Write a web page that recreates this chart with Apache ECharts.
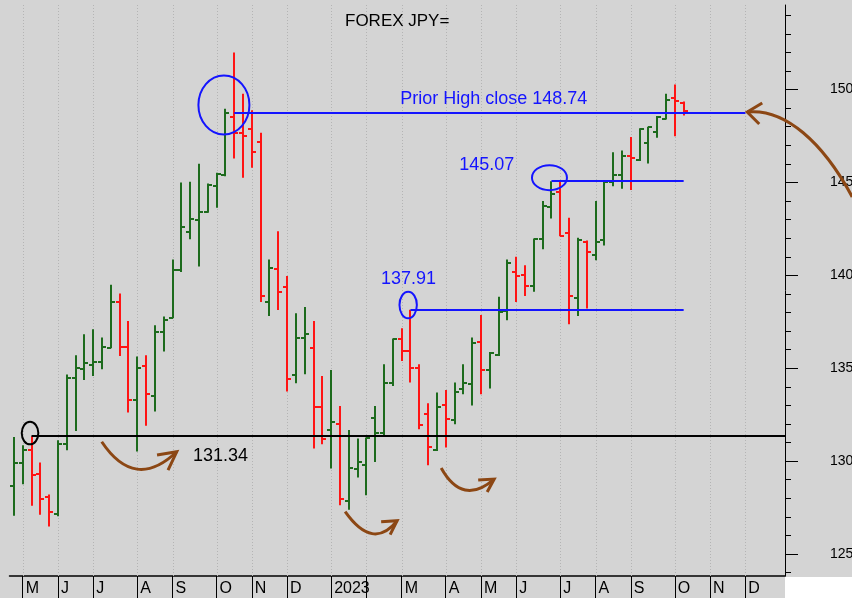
<!DOCTYPE html>
<html>
<head>
<meta charset="utf-8">
<title>FOREX JPY=</title>
<script src="https://cdn.jsdelivr.net/npm/echarts@6/dist/echarts.min.js"></script>
<style>
  html, body { margin: 0; padding: 0; background: #d4d4d4; }
  #chart { width: 852px; height: 598px; }
</style>
</head>
<body>
<div id="chart"></div>
<script>
// weekly OHLC, one bar per week (week ending Friday), first bar 2022-04-29
const weekCount = 88 // axis runs on to the end of Dec 2023

const opens = [128.67, 129.9, 130.6, 129.3, 128.05, 127.15, 130.95, 134.5, 134.98, 135.2,
  135.34, 136.1, 138.59, 136.17, 133.28, 135.13, 133.5, 136.97, 137.7, 140.27,
  142.35, 143.0, 143.4, 144.8, 145.4, 148.5, 147.67, 147.85, 147.19, 138.56,
  140.32, 139.39, 134.64, 136.65, 136.11, 132.89, 131.68, 132.0, 127.87, 129.57,
  129.8, 132.3, 131.49, 134.23, 136.56, 135.93, 135.04, 132.53, 130.59, 133.01,
  132.22, 133.91, 134.14, 136.41, 134.89, 135.7, 138.08, 140.2, 140.0, 139.43,
  141.94, 143.67, 144.5, 142.29, 138.8, 141.79, 141.09, 141.88, 145.02, 145.38,
  146.45, 146.2, 147.1, 147.73, 148.39, 149.52, 149.25]
const highs = [131.3, 130.86, 131.34, 129.93, 128.21, 131.13, 134.66, 135.7, 136.83, 137.1,
  136.65, 139.5, 139.02, 137.54, 135.63, 135.7, 137.31, 137.78, 140.86, 145.0,
  145.04, 146.0, 144.95, 145.52, 148.96, 152.0, 149.77, 148.89, 147.67, 140.86,
  142.38, 139.96, 137.96, 138.3, 137.54, 134.59, 134.91, 132.97, 131.68, 131.22,
  131.27, 132.97, 135.22, 136.6, 137.15, 138.15, 135.22, 133.12, 133.69, 133.83,
  134.23, 135.22, 136.65, 137.87, 135.88, 138.85, 140.86, 141.0, 140.54, 141.99,
  144.0, 145.07, 145.04, 143.1, 142.03, 141.88, 144.0, 145.07, 146.63, 146.72,
  147.44, 147.92, 148.0, 148.57, 149.78, 150.27, 149.35]
const lows = [127.06, 128.76, 127.6, 127.11, 126.49, 127.03, 130.59, 131.63, 134.37, 134.59,
  134.95, 136.08, 135.66, 132.62, 130.52, 131.9, 132.67, 135.9, 137.69, 140.18,
  141.94, 140.47, 143.37, 143.64, 145.34, 146.29, 145.25, 145.79, 138.56, 137.81,
  138.13, 133.75, 134.19, 134.68, 130.68, 130.91, 129.61, 127.63, 127.38, 129.12,
  128.17, 129.96, 131.41, 134.05, 135.39, 134.23, 131.72, 129.78, 130.55, 130.74,
  131.99, 133.6, 133.0, 133.6, 133.91, 135.66, 137.58, 138.56, 138.89, 139.12,
  141.4, 143.06, 142.11, 137.37, 137.81, 138.21, 140.81, 141.61, 144.8, 144.66,
  144.59, 146.15, 146.02, 147.4, 148.39, 147.49, 148.6]
const closes = [129.89, 130.61, 129.25, 127.96, 127.24, 130.95, 134.5, 135.04, 135.3, 135.35,
  136.15, 138.59, 136.17, 133.28, 135.04, 133.6, 136.97, 137.6, 140.27, 142.6,
  143.01, 143.4, 144.86, 145.43, 148.74, 147.67, 147.49, 146.63, 138.89, 140.41,
  139.12, 134.41, 136.65, 136.83, 132.89, 131.18, 132.13, 127.96, 129.62, 129.96,
  131.24, 131.5, 134.23, 136.56, 135.93, 135.04, 131.94, 130.77, 132.89, 132.26,
  133.71, 134.23, 136.34, 134.89, 135.81, 138.03, 140.68, 139.98, 139.43, 141.94,
  143.73, 144.39, 142.11, 138.89, 141.9, 141.25, 141.79, 145.04, 145.38, 146.41,
  146.33, 147.89, 147.97, 148.51, 149.42, 149.37, 148.83]

const yTicks = [125, 130, 135, 140, 145, 150]
const yMinorTicks = [124, 126, 127, 128, 129, 131, 132, 133, 134, 136, 137, 138, 139,
  141, 142, 143, 144, 146, 147, 148, 149, 151, 152, 153, 154]
// January shows the year, February label is covered by it
const monthLetters = ['', '', 'M', 'A', 'M', 'J', 'J', 'A', 'S', 'O', 'N', 'D']

// levels drawn on the chart: label, price, first and last week
const levelNames = ['Prior High close 148.74', '145.07', '137.91', '131.34']
const levelValues = [148.74, 145.07, 138.15, 131.34]
const levelStart = [25, 61, 45, 2]
const levelEnd = [83, 76, 76, 87]

const GREEN = '#1d6b1d'
const RED = '#ff1414'
const BLUE = '#1414ff'
const BROWN = '#8c4714'
const yMin = 123.82
const yMax = 154.55

const weeks = []
for (let i = 0; i < weekCount; i++) {
  const d = new Date(Date.UTC(2022, 3, 29 + i * 7))
  weeks.push(d.toISOString().slice(0, 10))
}
function isMonthStart (i) {
  return i > 0 && weeks[i].slice(5, 7) !== weeks[i - 1].slice(5, 7)
}
const monthStarts = weeks.map((w, i) => i).filter(isMonthStart)

const ohlcData = opens.map((o, i) => {
  const prev = i ? closes[i - 1] : o
  return [i, o, highs[i], lows[i], closes[i], closes[i] >= prev ? 1 : -1]
})

const chart = echarts.init(document.getElementById('chart'), null, { renderer: 'canvas' })

chart.setOption({
  animation: false,
  backgroundColor: '#d4d4d4',
  textStyle: { fontFamily: '"Liberation Sans", Arial, sans-serif' },
  title: {
    text: 'FOREX JPY=',
    left: 345,
    top: 13,
    padding: 0,
    textStyle: { color: '#000', fontSize: 17, fontWeight: 'normal' }
  },
  grid: { left: 9.5, right: 67, top: 5, bottom: 22, outerBoundsMode: 'none', containLabel: false },
  xAxis: {
    type: 'category',
    data: weeks,
    boundaryGap: true,
    axisLine: { lineStyle: { color: '#000', width: 1.5 } },
    axisTick: {
      show: true,
      interval: (i) => isMonthStart(i),
      alignWithLabel: true,
      length: 25,
      lineStyle: { color: '#000', width: 1 }
    },
    axisLabel: {
      interval: (i) => isMonthStart(i),
      formatter: (value) => {
        const m = +value.slice(5, 7)
        return m === 1 ? value.slice(0, 4) : monthLetters[m - 1]
      },
      align: 'left',
      padding: [0, 0, 0, 3],
      margin: 5,
      color: '#000',
      fontSize: 16
    },
    splitLine: { show: false }
  },
  yAxis: [
    {
      type: 'value',
      position: 'right',
      min: yMin,
      max: yMax,
      axisLine: { show: true, lineStyle: { color: '#000', width: 1 } },
      axisTick: { show: true, customValues: yMinorTicks, length: 6, lineStyle: { color: '#000' } },
      axisLabel: { show: false },
      splitLine: { show: false }
    },
    {
      type: 'value',
      position: 'right',
      min: yMin,
      max: yMax,
      axisLine: { show: false },
      axisTick: { show: true, customValues: yTicks, length: 13, lineStyle: { color: '#000' } },
      axisLabel: { customValues: yTicks, margin: 45, color: '#000', fontSize: 14 },
      splitLine: { show: false }
    }
  ],
  series: [
    {
      // dotted month lines
      type: 'custom',
      silent: true,
      data: monthStarts.map(i => [i, 140]),
      renderItem: (params, api) => {
        const x = Math.round(api.coord([api.value(0), 140])[0]) + 0.5
        const cs = params.coordSys
        return {
          type: 'line',
          shape: { x1: x, y1: cs.y, x2: x, y2: cs.y + cs.height },
          style: { stroke: '#b4b4b4', lineWidth: 1, lineDash: [1, 2] }
        }
      },
      z: 1
    },
    {
      // level lines
      type: 'custom',
      silent: true,
      data: levelValues.map((v, i) => [levelStart[i], v, levelEnd[i]]),
      renderItem: (params, api) => {
        const v = api.value(1)
        const p1 = api.coord([api.value(0), v])
        const p2 = api.coord([api.value(2), v])
        const cs = params.coordSys
        const x2 = api.value(2) === weekCount - 1 ? cs.x + cs.width : p2[0]
        const y = Math.round(p1[1])
        const black = params.dataIndex === 3
        return {
          type: 'line',
          shape: { x1: p1[0], y1: y, x2: x2, y2: y },
          style: { stroke: black ? '#000' : BLUE, lineWidth: 2 }
        }
      },
      z: 3
    },
    {
      name: 'JPY=',
      type: 'custom',
      silent: true,
      data: ohlcData,
      renderItem: (params, api) => {
        const i = api.value(0)
        const x = Math.round(api.coord([i, api.value(1)])[0])
        const yo = Math.round(api.coord([i, api.value(1)])[1])
        const yh = api.coord([i, api.value(2)])[1]
        const yl = api.coord([i, api.value(3)])[1]
        const yc = Math.round(api.coord([i, api.value(4)])[1])
        const color = api.value(5) > 0 ? GREEN : RED
        return {
          type: 'group',
          children: [
            { type: 'line', shape: { x1: x, y1: yh, x2: x, y2: yl }, style: { stroke: color, lineWidth: 2 } },
            { type: 'line', shape: { x1: x - 4, y1: yo, x2: x, y2: yo }, style: { stroke: color, lineWidth: 2 } },
            { type: 'line', shape: { x1: x, y1: yc, x2: x + 4, y2: yc }, style: { stroke: color, lineWidth: 2 } }
          ]
        }
      },
      z: 2
    }
  ]
})

// hand drawn notes, placed relative to a point of the chart
const toPx = (k, v) => chart.convertToPixel({ xAxisIndex: 0, yAxisIndex: 0 }, [k, v])

const texts = [
  { text: levelNames[0], at: [54, 148.74], d: [4, -14], color: BLUE },
  { text: levelNames[1], at: [54, 145.07], d: [-3, -16], color: BLUE },
  { text: levelNames[2], at: [45, 138.15], d: [-2, -31], color: BLUE },
  { text: levelNames[3], at: [23, 131.34], d: [4, 19.5], color: '#000' }
]
const ellipses = [
  { at: [24, 148.74], d: [-1.5, -8], r: [25.5, 29.5], color: BLUE },
  { at: [61, 145.07], d: [-2, -3.5], r: [17.5, 12.5], color: BLUE },
  { at: [45, 138.15], d: [-2.3, -4.7], r: [8.7, 13.3], color: BLUE },
  { at: [2, 131.34], d: [-1.5, -3.2], r: [8.3, 11.3], color: '#000' }
]
// curve: start, control(s), tip; head: two barb ends (offsets from the anchor)
const arrows = [
  { at: [18, 130.5], curve: [[-70.8, -10.1], [-37.7, 39.6], [4.2, -0.1]], head: [[-15.5, 3.2], [-4.5, 18.2]] },
  { at: [43, 126.8], curve: [[-47.7, -9], [-19.7, 30.5], [4.3, 0]], head: [[-11.7, 1], [-2.7, 14]] },
  { at: [54, 129.0], curve: [[-48.6, -11.7], [-27.1, 26.8], [4.4, -0.7]], head: [[-11.6, 0.3], [-2.6, 12.3]] },
  { at: [83, 148.74], curve: [[106.9, 84], [78, 30], [40, -4.9], [1.9, -0.9]], head: [[16.9, -9.9], [13.9, 11.1]] }
]

const graphic = [
  { type: 'rect', right: 0, bottom: 0, shape: { width: 67, height: 21 }, style: { fill: '#fff' }, z: 0 }
]
texts.forEach(t => {
  const p = toPx(t.at[0], t.at[1])
  graphic.push({
    type: 'text',
    x: p[0] + t.d[0],
    y: p[1] + t.d[1],
    style: {
      text: t.text,
      fill: t.color,
      font: '18px "Liberation Sans", Arial, sans-serif',
      align: 'center',
      verticalAlign: 'middle',
      textAlign: 'center',
      textVerticalAlign: 'middle'
    },
    z: 10
  })
})
ellipses.forEach(e => {
  const p = toPx(e.at[0], e.at[1])
  graphic.push({
    type: 'ellipse',
    shape: { cx: p[0] + e.d[0], cy: p[1] + e.d[1], rx: e.r[0], ry: e.r[1] },
    style: { fill: 'none', stroke: e.color, lineWidth: 2 },
    z: 10
  })
})
arrows.forEach(a => {
  const p = toPx(a.at[0], a.at[1])
  const pts = a.curve.map(c => [p[0] + c[0], p[1] + c[1]])
  const shape = pts.length === 3
    ? { x1: pts[0][0], y1: pts[0][1], cpx1: pts[1][0], cpy1: pts[1][1], x2: pts[2][0], y2: pts[2][1] }
    : { x1: pts[0][0], y1: pts[0][1], cpx1: pts[1][0], cpy1: pts[1][1], cpx2: pts[2][0], cpy2: pts[2][1], x2: pts[3][0], y2: pts[3][1] }
  const tip = pts[pts.length - 1]
  graphic.push({
    type: 'bezierCurve',
    shape: shape,
    style: { stroke: BROWN, lineWidth: 3, fill: 'none' },
    z: 10
  })
  graphic.push({
    type: 'polyline',
    shape: { points: [[p[0] + a.head[0][0], p[1] + a.head[0][1]], tip, [p[0] + a.head[1][0], p[1] + a.head[1][1]]] },
    style: { stroke: BROWN, lineWidth: 3, fill: 'none', lineJoin: 'miter' },
    z: 10
  })
})
chart.setOption({ graphic: graphic })
</script>
</body>
</html>
